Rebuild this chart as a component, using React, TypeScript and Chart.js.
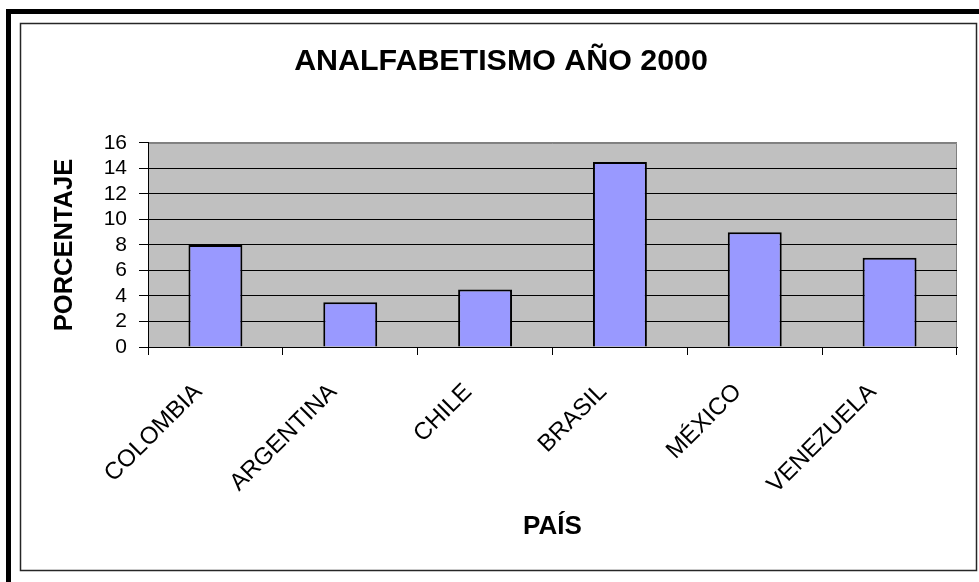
import React, { useEffect, useRef } from 'react';
import { Chart, registerables } from 'chart.js';

Chart.register(...registerables);

const categories: string[] = ['COLOMBIA', 'ARGENTINA', 'CHILE', 'BRASIL', 'MÉXICO', 'VENEZUELA'];
const values: number[] = [8, 3.5, 4.5, 14.5, 9, 7];
const yMin = 0;
const yMax = 16;
const yStep = 2;
const chartTitle = 'ANALFABETISMO AÑO 2000';
const xTitle = 'PAÍS';
const yTitle = 'PORCENTAJE';

const framePlugin = {
  id: 'frame',
  beforeDraw(chart: any) {
    const { ctx, chartArea, width, height } = chart;
    ctx.save();
    ctx.fillStyle = '#ffffff';
    ctx.fillRect(0, 0, width, height);
    // outer thick black border (top and left)
    ctx.fillStyle = '#000000';
    ctx.fillRect(6, 9, width - 6, 5);
    ctx.fillRect(6, 9, 5, height - 9);
    // inner thin border
    ctx.strokeStyle = '#262626';
    ctx.lineWidth = 1.5;
    ctx.strokeRect(20.5, 23.5, 956, 547);
    // plot area
    ctx.fillStyle = '#C0C0C0';
    ctx.fillRect(chartArea.left, chartArea.top, chartArea.right - chartArea.left, chartArea.bottom - chartArea.top);
    ctx.strokeStyle = '#808080';
    ctx.lineWidth = 1;
    ctx.beginPath();
    ctx.moveTo(chartArea.left, chartArea.top + 0.5);
    ctx.lineTo(chartArea.right - 0.5, chartArea.top + 0.5);
    ctx.lineTo(chartArea.right - 0.5, chartArea.bottom);
    ctx.stroke();
    ctx.restore();
  },
};

export default function App() {
  const ref = useRef<HTMLCanvasElement | null>(null);

  useEffect(() => {
    if (!ref.current) return;
    Chart.defaults.font.family = '"Liberation Sans", Arial, sans-serif';
    const chart = new Chart(ref.current, {
      type: 'bar',
      data: {
        labels: categories,
        datasets: [
          {
            data: values,
            backgroundColor: '#9999FF',
            borderColor: '#000000',
            borderWidth: 2,
            barPercentage: 0.4,
            categoryPercentage: 1,
          },
        ],
      },
      options: {
        responsive: false,
        animation: false,
        devicePixelRatio: 1,
        layout: { padding: { left: 45, right: 22, top: 0, bottom: 0 } },
        plugins: {
          legend: { display: false },
          tooltip: { enabled: false },
          title: {
            display: true,
            text: chartTitle,
            color: '#000000',
            font: { size: 30.4, weight: 'bold' },
            padding: { top: 43.5, bottom: 63 },
          },
        },
        scales: {
          x: {
            grid: { offset: true, drawOnChartArea: false, drawTicks: true, tickLength: 8, color: '#000000' },
            border: { display: true, color: '#000000', width: 1 },
            ticks: {
              color: '#000000',
              font: { size: 24 },
              minRotation: 45,
              maxRotation: 45,
              autoSkip: false,
              padding: 23,
              labelOffset: -17,
            },
            title: {
              display: true,
              text: xTitle,
              color: '#000000',
              font: { size: 26, weight: 'bold' },
              padding: { top: 0, bottom: 39.4 },
            },
            afterFit: (s: any) => {
              s.height = 235;
            },
          },
          y: {
            min: yMin,
            max: yMax,
            ticks: {
              stepSize: yStep,
              autoSkip: false,
              maxTicksLimit: 20,
              color: '#000000',
              font: { size: 21, lineHeight: 1 },
              padding: 12,
            },
            grid: {
              color: (c: any) => (c.tick && c.tick.value === yMax ? '#808080' : '#000000'),
              tickColor: '#000000',
              tickLength: 9,
              lineWidth: 1,
            },
            border: { display: true, color: '#000000', width: 1 },
            title: {
              display: true,
              text: yTitle,
              color: '#000000',
              font: { size: 25.5, weight: 'bold' },
              padding: { top: 4.2, bottom: 0 },
            },
            afterFit: (s: any) => {
              s.width = 103;
            },
          },
        },
      },
      plugins: [framePlugin],
    } as any);
    return () => chart.destroy();
  }, []);

  return (
    <canvas
      ref={ref}
      width={979}
      height={582}
      style={{ position: 'absolute', left: 0, top: 0, width: 979, height: 582 }}
    />
  );
}
